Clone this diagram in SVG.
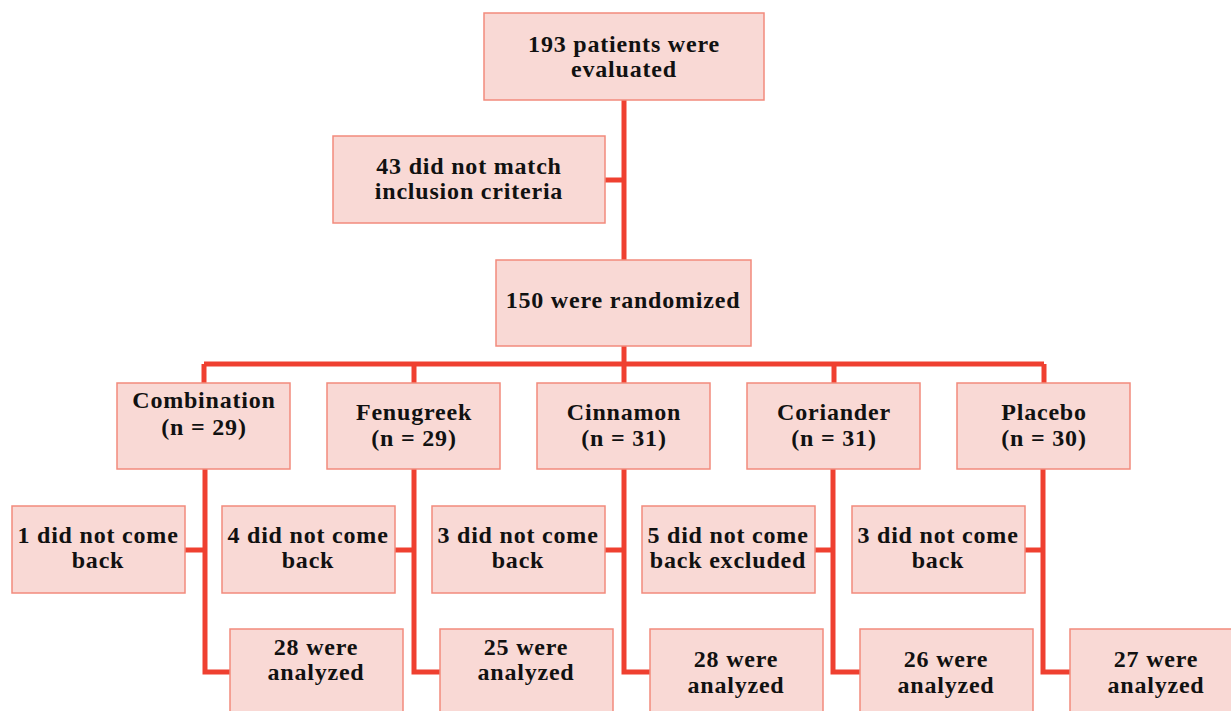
<svg xmlns="http://www.w3.org/2000/svg" width="1231" height="711" viewBox="0 0 1231 711">
<style>
.box{fill:#f9d9d5;stroke:#f28a7c;stroke-width:1.5}
.t{font-family:"Liberation Serif",serif;font-weight:bold;font-size:24px;letter-spacing:0.8px;fill:#111;text-anchor:middle}
.c{fill:none;stroke:#ef4030;stroke-width:5;stroke-linejoin:miter}
</style>
<rect width="1231" height="711" fill="#fff"/>
<g id="connectors">
<path class="c" d="M624 100V260M605 180H624M624 346V364M204 364H1044"/>
<path class="c" d="M204 364V383M414 364V383M624 364V383M834 364V383M1044 364V383"/>
<path class="c" d="M205 469V672H230M185 550H205"/>
<path class="c" d="M414 469V672H440M395 550H414"/>
<path class="c" d="M624 469V672H650M605 550H624"/>
<path class="c" d="M833 469V672H860M815 550H833"/>
<path class="c" d="M1043 469V672H1070M1025 550H1043"/>
</g>
<g id="n-evaluated"><rect class="box" x="484" y="13" width="280" height="87"/><text class="t" x="624" y="52">193 patients were</text><text class="t" x="624" y="77">evaluated</text></g>
<g id="n-excluded"><rect class="box" x="333" y="136" width="272" height="87"/><text class="t" x="469" y="174">43 did not match</text><text class="t" x="469" y="199">inclusion criteria</text></g>
<g id="n-randomized"><rect class="box" x="496" y="260" width="255" height="86"/><text class="t" x="623" y="308">150 were randomized</text></g>
<g id="n-combination"><rect class="box" x="117" y="383" width="173" height="86"/><text class="t" x="204" y="408">Combination</text><text class="t" x="204" y="435">(n = 29)</text></g>
<g id="n-fenugreek"><rect class="box" x="327" y="383" width="173" height="86"/><text class="t" x="414" y="420">Fenugreek</text><text class="t" x="414" y="446">(n = 29)</text></g>
<g id="n-cinnamon"><rect class="box" x="537" y="383" width="173" height="86"/><text class="t" x="624" y="420">Cinnamon</text><text class="t" x="624" y="446">(n = 31)</text></g>
<g id="n-coriander"><rect class="box" x="747" y="383" width="173" height="86"/><text class="t" x="834" y="420">Coriander</text><text class="t" x="834" y="446">(n = 31)</text></g>
<g id="n-placebo"><rect class="box" x="957" y="383" width="173" height="86"/><text class="t" x="1044" y="420">Placebo</text><text class="t" x="1044" y="446">(n = 30)</text></g>
<g id="n-drop1"><rect class="box" x="12" y="506" width="173" height="87"/><text class="t" x="98" y="543">1 did not come</text><text class="t" x="98" y="568">back</text></g>
<g id="n-drop2"><rect class="box" x="222" y="506" width="173" height="87"/><text class="t" x="308" y="543">4 did not come</text><text class="t" x="308" y="568">back</text></g>
<g id="n-drop3"><rect class="box" x="432" y="506" width="173" height="87"/><text class="t" x="518" y="543">3 did not come</text><text class="t" x="518" y="568">back</text></g>
<g id="n-drop4"><rect class="box" x="642" y="506" width="173" height="87"/><text class="t" x="728" y="543">5 did not come</text><text class="t" x="728" y="568">back excluded</text></g>
<g id="n-drop5"><rect class="box" x="852" y="506" width="173" height="87"/><text class="t" x="938" y="543">3 did not come</text><text class="t" x="938" y="568">back</text></g>
<g id="n-an1"><rect class="box" x="230" y="629" width="173" height="90"/><text class="t" x="316" y="655">28 were</text><text class="t" x="316" y="680">analyzed</text></g>
<g id="n-an2"><rect class="box" x="440" y="629" width="173" height="90"/><text class="t" x="526" y="655">25 were</text><text class="t" x="526" y="680">analyzed</text></g>
<g id="n-an3"><rect class="box" x="650" y="629" width="173" height="90"/><text class="t" x="736" y="667">28 were</text><text class="t" x="736" y="693">analyzed</text></g>
<g id="n-an4"><rect class="box" x="860" y="629" width="173" height="90"/><text class="t" x="946" y="667">26 were</text><text class="t" x="946" y="693">analyzed</text></g>
<g id="n-an5"><rect class="box" x="1070" y="629" width="173" height="90"/><text class="t" x="1156" y="667">27 were</text><text class="t" x="1156" y="693">analyzed</text></g>
</svg>
